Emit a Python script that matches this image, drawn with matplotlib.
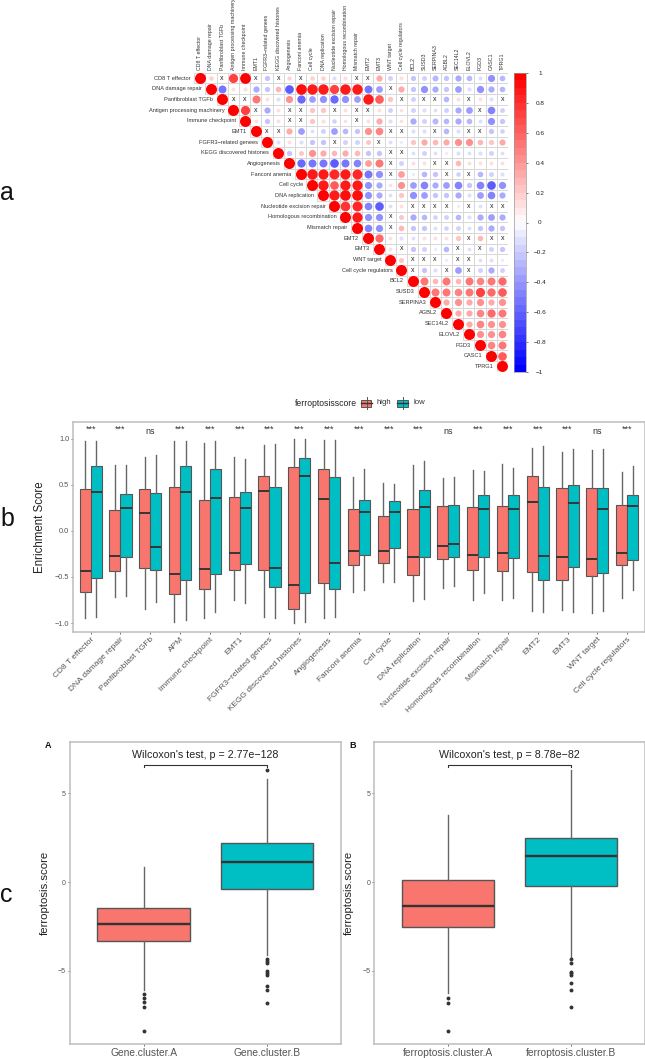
import matplotlib
matplotlib.use('Agg')
from matplotlib import pyplot as plt
from matplotlib.colors import LinearSegmentedColormap
from matplotlib.patches import Rectangle
import numpy as np

plt.rcParams['font.family'] = ['Liberation Sans', 'DejaVu Sans']

W, H = 645, 1058
RED = '#F8766D'
TEAL = '#00BFC4'
BORDER = '#bdbdbd'

# ---- panel a : correlation matrix, upper triangle, None means a crossed cell
corr_names = ['CD8 T effector', 'DNA damage repair', 'Panfibroblast TGFb', 'Antigen processing machinery',
              'Immune checkpoint', 'EMT1', 'FGFR3\u2212related genees', 'KEGG discovered histones', 'Angiogenesis',
              'Fanconi anemia', 'Cell cycle', 'DNA replication', 'Nucleotide excision repair',
              'Homologous recombination', 'Mismatch repair', 'EMT2', 'EMT3', 'WNT target', 'Cell cycle regulators',
              'BCL2', 'SUSD3', 'SERPINA3', 'AGBL2', 'SEC14L2', 'ELOVL2', 'FGD3', 'CASC1', 'TPRG1']
x = None
corr_rows = [
    [.17, x, .7, .96, x, -.23, x, .15, x, .17, .17, -.14, .14, x, x, .32, -.2, .14, -.23, -.2, -.3, -.23, -.32, -.26, -.14, -.43, -.26],
    [-.53, .12, .14, -.32, -.23, .26, -.62, .93, .89, .89, .7, .89, .89, -.53, -.38, x, .32, -.23, -.43, -.32, -.23, -.38, -.14, -.43, -.32, -.26],
    [x, x, .53, .12, -.14, .43, -.57, -.38, -.43, -.57, -.43, -.38, .89, .62, .23, x, -.2, x, x, -.26, .14, x, .12, -.14, x],
    [.7, x, -.32, .12, x, x, .23, .23, x, .12, x, x, .12, -.2, .1, -.2, -.14, -.12, -.2, -.32, -.38, x, -.48, -.2],
    [.1, -.23, .12, x, x, .23, .14, -.17, .1, x, .12, .32, -.14, .1, -.32, -.2, -.3, -.26, -.32, -.26, -.12, -.43, -.23],
    [x, x, .32, -.38, -.12, -.2, -.38, -.26, -.23, .43, .48, x, x, -.14, -.14, x, -.26, -.14, x, x, -.23, -.17],
    [-.12, .12, -.14, -.23, -.23, x, -.2, -.2, .2, x, -.12, -.1, .23, .32, .26, .32, .43, .43, .26, .23, .32],
    [-.23, .2, .43, .32, .26, .32, .26, -.23, -.23, x, x, -.12, -.2, -.12, -.1, -.14, -.12, -.14, -.2, -.12],
    [-.57, -.53, -.53, -.62, -.53, -.48, .38, .53, x, -.2, .12, .12, x, x, .26, .12, .12, .12, .12],
    [.89, .86, .82, .86, .82, -.53, -.43, x, .38, -.1, -.26, -.23, x, -.17, x, -.26, -.2, -.14],
    [.89, .62, .86, .86, -.43, -.32, .1, .43, -.38, -.48, -.32, -.38, -.48, -.23, -.48, -.62, -.43],
    [.86, .93, .93, -.43, -.32, -.12, .23, -.43, -.38, -.23, -.23, -.32, -.14, -.38, -.48, -.32],
    [.78, .82, -.48, -.62, -.12, .12, x, x, x, x, -.08, x, -.12, x, x],
    [.86, -.43, -.43, x, .2, -.32, -.26, -.17, -.2, -.26, -.14, -.32, -.38, -.32],
    [-.48, -.43, x, .26, -.23, -.23, -.12, -.17, -.2, -.12, -.23, -.32, -.23],
    [.57, .12, -.14, -.12, .12, .12, .12, .23, x, .26, x, x],
    [.12, x, -.23, -.2, -.1, -.26, x, -.12, x, -.2, -.23],
    [.2, x, x, x, -.1, x, x, -.12, -.12, -.1],
    [x, -.23, -.14, x, -.38, x, -.2, -.32, -.2],
    [.53, .26, .53, .26, .53, .48, .53, .57],
    [.53, .53, .48, .53, .7, .57, .62],
    [.32, .43, .32, .43, .32, .43],
    [.32, .32, .48, .57, .53],
    [.32, .48, .43, .43],
    [.43, .43, .48],
    [.48, .53],
    [.62],
]
cbar_ticks = [1, .8, .6, .4, .2, 0, -.2, -.4, -.6, -.8, -1]
cbar_labels = ['1', '0.8', '0.6', '0.4', '0.2', '0', '\u22120.2', '\u22120.4', '\u22120.6', '\u22120.8', '\u22121']

# ---- panel b : boxes as (whisker low, q1, median, q3, whisker high)
sig_names = ['CD8 T effector', 'DNA damage repair', 'Panfibroblast TGFb', 'APM', 'Immune checkpoint', 'EMT1',
             'FGFR3\u2212related genees', 'KEGG discovered histones', 'Angiogenesis', 'Fanconi anemia', 'Cell cycle',
             'DNA replication', 'Nucleotide excision repair', 'Homologous recombination', 'Mismatch repair',
             'EMT2', 'EMT3', 'WNT target', 'Cell cycle regulators']
sig_stars = ['***', '***', 'ns', '***', '***', '***', '***', '***', '***', '***', '***', '***', 'ns', '***', '***',
             '***', '***', 'ns', '***']
high_boxes = [(-.95, -.66, -.44, .455, .98), (-.72, -.43, -.27, .23, .71), (-.85, -.40, .19, .45, .80),
              (-.99, -.68, -.47, .48, .97), (-.94, -.63, -.41, .34, .95), (-.75, -.42, -.245, .37, .80),
              (-.93, -.42, .43, .60, .93), (-1.0, -.85, -.59, .69, 1.0), (-.94, -.57, .35, .67, .99),
              (-.66, -.37, -.22, .24, .585), (-.555, -.35, -.22, .16, .52), (-.76, -.48, -.28, .24, .71),
              (-.62, -.31, -.16, .27, .57), (-.755, -.42, -.26, .26, .66), (-.755, -.43, -.24, .275, .73),
              (-.865, -.45, .31, .60, .90), (-.855, -.53, -.28, .46, .86), (-.89, -.49, -.30, .465, .88),
              (-.73, -.375, -.245, .285, .635)]
low_boxes = [(-.93, -.51, .42, .70, .98), (-.71, -.28, .25, .40, .72), (-.77, -.42, -.17, .41, .82),
             (-.97, -.53, .42, .70, .98), (-.88, -.47, .36, .67, .97), (-.78, -.355, .25, .42, .78),
             (-.94, -.61, -.40, .475, .94), (-.99, -.67, .59, .79, 1.0), (-.93, -.63, -.345, .585, .99),
             (-.64, -.265, .20, .34, .67), (-.555, -.185, .21, .325, .51), (-.74, -.28, .26, .44, .76),
             (-.60, -.28, -.145, .28, .585), (-.67, -.28, .235, .39, .65), (-.73, -.29, .235, .39, .68),
             (-.885, -.53, -.27, .48, .92), (-.88, -.39, .30, .495, .89), (-.865, -.46, .24, .465, .885),
             (-.64, -.315, .27, .39, .705)]

# ---- panel c
gene_names = ['Gene.cluster.A', 'Gene.cluster.B']
gene_boxes = [(-6.09, -3.35, -2.35, -1.48, .83), (-4.12, -.39, 1.11, 2.2, 5.79)]
gene_fliers = [[-6.3, -6.54, -6.79, -7.05, -8.4],
               [6.32, -4.32, -4.47, -4.59, -5.04, -5.13, -5.24, -5.85, -6.11, -6.82]]
ferro_names = ['ferroptosis.cluster.A', 'ferroptosis.cluster.B']
ferro_boxes = [(-6.28, -2.54, -1.37, .09, 3.78), (-4.27, -.23, 1.47, 2.48, 6.3)]
ferro_fliers = [[-6.56, -6.82, -8.4],
                [-4.36, -4.57, -5.06, -5.15, -5.24, -5.71, -6.09, -7.05]]


def px_axes(fig, left, top, right, bottom):
    return fig.add_axes([left / W, 1 - bottom / H, (right - left) / W, (bottom - top) / H])


def boxes(ax, stats, fliers, pos, width, colors, lw):
    rows = []
    for i in range(len(stats)):
        wl, q1, med, q3, wh = stats[i]
        rows.append(dict(whislo=wl, q1=q1, med=med, q3=q3, whishi=wh, fliers=fliers[i] if fliers else []))
    out = ax.bxp(rows, positions=pos, widths=width, patch_artist=True, showcaps=False, manage_ticks=False,
                 boxprops=dict(edgecolor='#555555', linewidth=lw),
                 whiskerprops=dict(color='#666666', linewidth=1),
                 medianprops=dict(color='#333333', linewidth=lw * 1.7, solid_capstyle='butt'),
                 flierprops=dict(marker='o', markersize=2.8, markerfacecolor='#333333', markeredgewidth=0))
    for b, c in zip(out['boxes'], colors):
        b.set_facecolor(c)


def style(ax):
    for s in ax.spines.values():
        s.set_color(BORDER)
        s.set_linewidth(1.1)
    ax.tick_params(color='#555555', length=1.6, width=.6, labelcolor='#555555', pad=1)


fig = plt.figure(figsize=(W / 100, H / 100), dpi=100)

# panel a
n = len(corr_names)
cell_w, cell_h = 11.2, 10.68
ax = px_axes(fig, 199.7 - cell_w / 2, 78 - cell_h / 2, 502.4 + cell_w / 2, 366.4 + cell_h / 2)
ax.set_xlim(-.5, n - .5)
ax.set_ylim(n - .5, -.5)
ax.axis('off')
cmap = LinearSegmentedColormap.from_list('corr', ['#0000ff', '#ffffff', '#ff0000'], N=40)
for r in range(n):
    vals = [1] + corr_rows[r] if r < n - 1 else [1]
    for k in range(len(vals)):
        c = r + k
        ax.add_patch(Rectangle((c - .5, r - .5), 1, 1, fc='white', ec='#d8d8d8', lw=.7, zorder=1))
        v = vals[k]
        if v is None:
            ax.text(c, r, 'x', fontsize=5, color='#222222', ha='center', va='center', zorder=3)
        else:
            ax.scatter(c, r, s=(11 * .72) ** 2 * abs(v), color=cmap((v + 1) / 2), linewidths=0, zorder=2)
    ax.text(r - .8, r, corr_names[r], fontsize=4.05, color='#333333', ha='right', va='center', clip_on=False)
    ax.text(r, -.72, corr_names[r], fontsize=3.75, color='#333333', rotation=90, ha='center', va='bottom', clip_on=False)

cax = px_axes(fig, 514, 73, 526, 372)
cax.imshow(np.linspace(1, -1, 40).reshape(-1, 1), cmap=cmap, vmin=-1, vmax=1, aspect='auto', extent=[0, 1, -1, 1])
cax.set_xticks([])
cax.yaxis.tick_right()
cax.set_yticks(cbar_ticks)
cax.set_yticklabels(cbar_labels, ha='center')
cax.tick_params(axis='y', length=1.5, width=.5, labelsize=4.6, pad=8.5, color='#444444', labelcolor='#222222')
for s in cax.spines.values():
    s.set_color('#999999')
    s.set_linewidth(.5)

# panel b
ax = px_axes(fig, 72.8, 422, 645, 632.3)
pos = np.arange(len(sig_names))
boxes(ax, high_boxes, None, pos - .1875, .375, [RED] * len(pos), .8)
boxes(ax, low_boxes, None, pos + .1875, .375, [TEAL] * len(pos), .8)
for i in pos:
    ax.text(i, 1.10 if sig_stars[i] == '***' else 1.08, sig_stars[i], ha='center', va='center', fontsize=6.5, color='#333333')
ax.set_xlim(-.6, len(pos) - 1 + .6)
ax.set_ylim(-1.10, 1.181)
ax.set_xticks(pos)
ax.set_xticklabels(sig_names, rotation=45, ha='right', rotation_mode='anchor', fontsize=6.05)
ax.set_yticks([-1, -.5, 0, .5, 1])
ax.set_yticklabels(['\u22121.0', '\u22120.5', '0.0', '0.5', '1.0'], fontsize=5.3)
ax.set_ylabel('Enrichment Score', fontsize=8.3, color='#222222')
ax.yaxis.set_label_coords((46 - 72.8) / (645 - 72.8), .5)
style(ax)

# legend of panel b
fig.text(295 / W, 1 - 403 / H, 'ferroptosisscore', fontsize=6.2, va='center', color='#222222')
for left, col, name in [(361, RED, 'high'), (397, TEAL, 'low')]:
    fig.add_artist(plt.Line2D([(left + 5.5) / W] * 2, [1 - 397 / H, 1 - 409 / H], color='#555555', lw=.7))
    fig.add_artist(Rectangle((left / W, 1 - 406.5 / H), 10.5 / W, 7 / H, fc=col, ec='#555555', lw=.7, transform=fig.transFigure))
    fig.add_artist(plt.Line2D([left / W, (left + 10.5) / W], [1 - 403 / H] * 2, color='#333333', lw=1))
    fig.text((left + 16) / W, 1 - 403 / H, name, fontsize=5.6, va='center', color='#333333')

# panel c
for left, right, label_x, names, stats, fliers, title in [
        (69.7, 340.7, 49.5, gene_names, gene_boxes, gene_fliers, "Wilcoxon's test, p = 2.77e\u2212128"),
        (374.3, 645, 354, ferro_names, ferro_boxes, ferro_fliers, "Wilcoxon's test, p = 8.78e\u221282")]:
    ax = px_axes(fig, left, 742, right, 1044)
    boxes(ax, stats, fliers, [0, 1], .75, [RED, TEAL], 1)
    ax.plot([0, 0, 1, 1], [6.5, 6.63, 6.63, 6.5], color='#333333', lw=.8)
    ax.text(.5, 7.14, title, ha='center', va='center', fontsize=7.7, color='#222222')
    ax.set_xlim(-.6, 1.6)
    ax.set_ylim(-9.14, 7.9)
    ax.set_xticks([0, 1])
    ax.set_xticklabels(names, fontsize=7.4)
    ax.set_yticks([-5, 0, 5])
    ax.set_yticklabels(['\u22125', '0', '5'], fontsize=5)
    ax.set_ylabel('ferroptosis.score', fontsize=8.2, color='#222222')
    ax.yaxis.set_label_coords((label_x - left) / (right - left), .5)
    style(ax)

# panel letters
for px, py, s, size, weight in [(0, 193, 'a', 18, 'normal'), (0, 519, 'b', 18, 'normal'), (0, 895, 'c', 18, 'normal'),
                                (45, 745, 'A', 6.5, 'bold'), (349, 745, 'B', 6.5, 'bold')]:
    fig.text(px / W, 1 - py / H, s, fontsize=size, fontweight=weight, va='center', color='#111111')

fig.savefig('out.png', dpi=100)
